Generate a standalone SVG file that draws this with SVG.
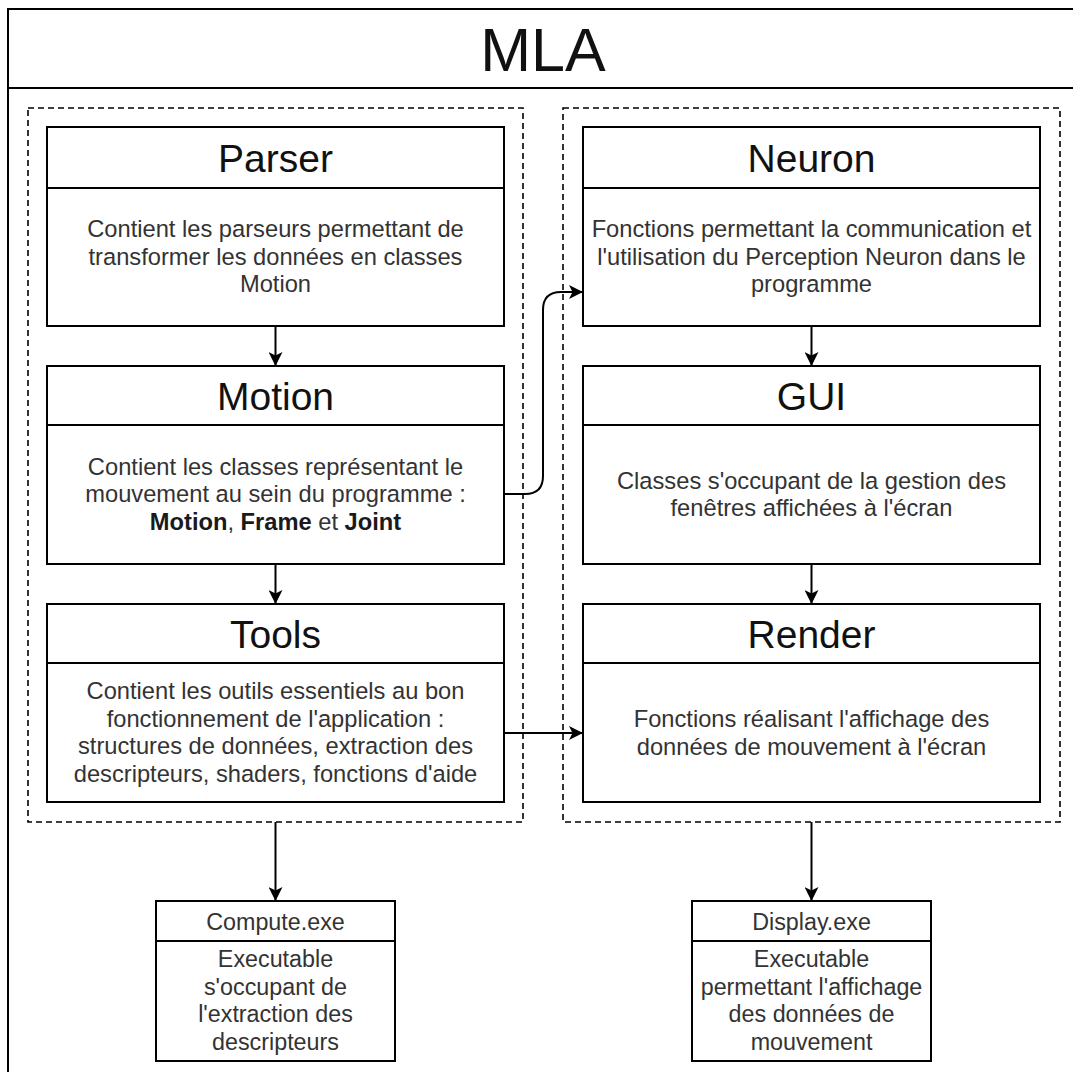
<svg xmlns="http://www.w3.org/2000/svg" width="1073" height="1072" viewBox="0 0 1073 1072">
<style>
  .box { fill: #ffffff; stroke: #000000; stroke-width: 2; }
  .div { stroke: #000000; stroke-width: 2; fill: none; }
  .dash { fill: none; stroke: #000000; stroke-width: 1.6; stroke-dasharray: 6 4; }
  .edge { fill: none; stroke: #000000; stroke-width: 2; }
  text { font-family: "Liberation Sans", Arial, sans-serif; text-anchor: middle; fill: #111111; }
  .title { font-size: 61px; }
  .head { font-size: 39px; }
  .body { font-size: 23.7px; fill: #333333; }
  .small { font-size: 23.3px; fill: #333333; }
  .b { font-weight: bold; fill: #1a1a1a; }
</style>
<defs>
  <marker id="arrow" markerUnits="userSpaceOnUse" viewBox="0 0 14 14" refX="14" refY="7" markerWidth="14" markerHeight="14" orient="auto">
    <path d="M0,0 L14,7 L0,14 L3.5,7 Z" fill="#000000"/>
  </marker>
</defs>
<rect width="1073" height="1072" fill="#ffffff"/>

<g id="frame">
  <rect x="8" y="9" width="1080" height="1080" class="box"/>
  <line x1="8" y1="88" x2="1088" y2="88" class="div"/>
  <text x="543" y="71" class="title">MLA</text>
</g>

<g id="container-left">
  <rect x="28" y="108" width="495" height="714" class="dash"/>
</g>
<g id="container-right">
  <rect x="563" y="108" width="497" height="714" class="dash"/>
</g>

<g id="parser">
  <rect x="47" y="127" width="457" height="199" class="box"/>
  <line x1="47" y1="188" x2="504" y2="188" class="div"/>
  <text x="275.5" y="171.5" class="head">Parser</text>
  <text x="275.5" y="237" class="body">Contient les parseurs permettant de</text>
  <text x="275.5" y="264.5" class="body">transformer les données en classes</text>
  <text x="275.5" y="292" class="body">Motion</text>
</g>

<g id="motion">
  <rect x="47" y="366" width="457" height="198" class="box"/>
  <line x1="47" y1="425" x2="504" y2="425" class="div"/>
  <text x="275.5" y="410" class="head">Motion</text>
  <text x="275.5" y="474.5" class="body">Contient les classes représentant le</text>
  <text x="275.5" y="502" class="body">mouvement au sein du programme :</text>
  <text x="275.5" y="529.5" class="body"><tspan class="b">Motion</tspan>, <tspan class="b">Frame</tspan> et <tspan class="b">Joint</tspan></text>
</g>

<g id="tools">
  <rect x="47" y="604" width="457" height="198" class="box"/>
  <line x1="47" y1="663" x2="504" y2="663" class="div"/>
  <text x="275.5" y="648" class="head">Tools</text>
  <text x="275.5" y="699" class="body">Contient les outils essentiels au bon</text>
  <text x="275.5" y="726.5" class="body">fonctionnement de l'application :</text>
  <text x="275.5" y="754" class="body">structures de données, extraction des</text>
  <text x="275.5" y="781.5" class="body">descripteurs, shaders, fonctions d'aide</text>
</g>

<g id="neuron">
  <rect x="583" y="127" width="457" height="199" class="box"/>
  <line x1="583" y1="188" x2="1040" y2="188" class="div"/>
  <text x="811.5" y="171.5" class="head">Neuron</text>
  <text x="811.5" y="237" class="body">Fonctions permettant la communication et</text>
  <text x="811.5" y="264.5" class="body">l'utilisation du Perception Neuron dans le</text>
  <text x="811.5" y="292" class="body">programme</text>
</g>

<g id="gui">
  <rect x="583" y="366" width="457" height="198" class="box"/>
  <line x1="583" y1="425" x2="1040" y2="425" class="div"/>
  <text x="811.5" y="410" class="head">GUI</text>
  <text x="811.5" y="488.5" class="body">Classes s'occupant de la gestion des</text>
  <text x="811.5" y="516" class="body">fenêtres affichées à l'écran</text>
</g>

<g id="render">
  <rect x="583" y="604" width="457" height="198" class="box"/>
  <line x1="583" y1="663" x2="1040" y2="663" class="div"/>
  <text x="811.5" y="648" class="head">Render</text>
  <text x="811.5" y="727" class="body">Fonctions réalisant l'affichage des</text>
  <text x="811.5" y="754.5" class="body">données de mouvement à l'écran</text>
</g>

<g id="compute">
  <rect x="156" y="901" width="239" height="160" class="box"/>
  <line x1="156" y1="941" x2="395" y2="941" class="div"/>
  <text x="275.5" y="929.5" class="small">Compute.exe</text>
  <text x="275.5" y="967" class="small">Executable</text>
  <text x="275.5" y="994.5" class="small">s'occupant de</text>
  <text x="275.5" y="1022" class="small">l'extraction des</text>
  <text x="275.5" y="1049.5" class="small">descripteurs</text>
</g>

<g id="display">
  <rect x="692" y="901" width="239" height="160" class="box"/>
  <line x1="692" y1="941" x2="931" y2="941" class="div"/>
  <text x="811.5" y="929.5" class="small">Display.exe</text>
  <text x="811.5" y="967" class="small">Executable</text>
  <text x="811.5" y="994.5" class="small">permettant l'affichage</text>
  <text x="811.5" y="1022" class="small">des données de</text>
  <text x="811.5" y="1049.5" class="small">mouvement</text>
</g>

<g id="connectors">
  <path d="M275.5,326 V366" class="edge" marker-end="url(#arrow)"/>
  <path d="M275.5,564 V604" class="edge" marker-end="url(#arrow)"/>
  <path d="M811.5,326 V366" class="edge" marker-end="url(#arrow)"/>
  <path d="M811.5,564 V604" class="edge" marker-end="url(#arrow)"/>
  <path d="M504,494 H525 Q543,494 543,476 V310 Q543,292 561,292 H583" class="edge" marker-end="url(#arrow)"/>
  <path d="M504,733 H583" class="edge" marker-end="url(#arrow)"/>
  <path d="M275.5,822 V901" class="edge" marker-end="url(#arrow)"/>
  <path d="M811.5,822 V901" class="edge" marker-end="url(#arrow)"/>
</g>
</svg>
